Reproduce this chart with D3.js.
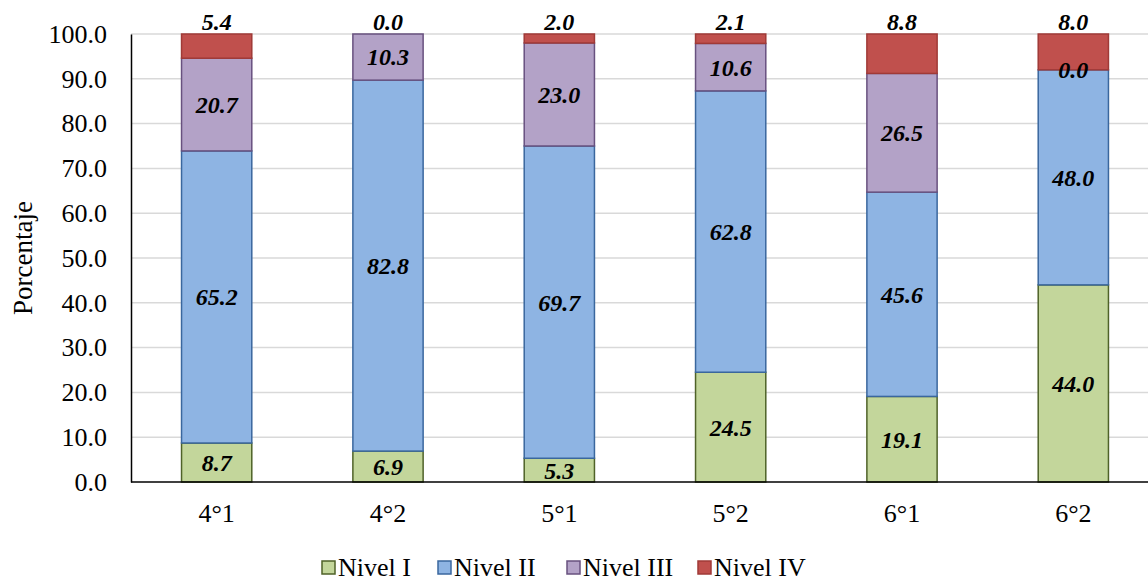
<!DOCTYPE html>
<html><head><meta charset="utf-8">
<script src="https://cdn.jsdelivr.net/npm/d3@7"></script>
<style>body{margin:0;background:#fff}svg{display:block}svg text{font-family:'Liberation Serif','Times New Roman',serif}</style>
</head><body><svg id="c" width="1148" height="581"></svg>
<script>
const categories = ["4°1","4°2","5°1","5°2","6°1","6°2"];
const seriesNames = ["Nivel I","Nivel II","Nivel III","Nivel IV"];
const nivelI   = [8.7, 6.9, 5.3, 24.5, 19.1, 44.0];
const nivelII  = [65.2, 82.8, 69.7, 62.8, 45.6, 48.0];
const nivelIII = [20.7, 10.3, 23.0, 10.6, 26.5, 0.0];
const nivelIV  = [5.4, 0.0, 2.0, 2.1, 8.8, 8.0];
const yTicks = [0,10,20,30,40,50,60,70,80,90,100];

const fills = ["#C3D69B","#8EB4E3","#B3A2C7","#C0504D"];
const strokes = ["#4F6228","#3A679E","#68517F","#A03A37"];
const seriesVals = [nivelI, nivelII, nivelIII, nivelIV];

const svg = d3.select("#c");
const pL = 131, pR = 1159, pT = 34, pB = 482;
const x = d3.scaleBand().domain(categories).range([pL, pR]).paddingInner(0.59).paddingOuter(0.295);
const y = d3.scaleLinear().domain([0,100]).range([pB, pT]);
const FF = "'Liberation Serif','Times New Roman',serif";

// gridlines
svg.append("g").selectAll("line").data(yTicks.filter(d=>d>0)).join("line")
  .attr("x1", pL).attr("x2", 1148).attr("y1", d=>y(d)).attr("y2", d=>y(d))
  .attr("stroke", "#D9D9D9").attr("stroke-width", 1.5);

// stacked data
const table = categories.map((c,i)=>{ const o={cat:c}; seriesNames.forEach((s,j)=>o[s]=seriesVals[j][i]); return o;});
const stack = d3.stack().keys(seriesNames)(table);

const g = svg.append("g");
stack.forEach((layer, j)=>{
  g.selectAll(null).data(layer).join("rect")
    .attr("x", d=>x(d.data.cat)).attr("width", x.bandwidth())
    .attr("y", d=>y(d[1])).attr("height", d=>y(d[0])-y(d[1]))
    .attr("fill", fills[j]).attr("stroke", strokes[j]).attr("stroke-width", 1.5);
});

// axes
const yAxis = d3.axisLeft(y).tickValues(yTicks).tickFormat(d3.format(".1f")).tickSize(0).tickPadding(24);
const ya = svg.append("g").attr("transform", `translate(${pL},0)`).call(yAxis).attr("font-family", null);
ya.select(".domain").attr("stroke","#000").attr("stroke-width",1.5);
ya.selectAll("text").style("font-family", FF).style("font-size", "26px").attr("fill","#000");

const xAxis = d3.axisBottom(x).tickSize(0).tickPadding(22);
const xa = svg.append("g").attr("transform", `translate(0,${pB})`).call(xAxis).attr("font-family", null);
xa.select(".domain").attr("d", `M${pL},0H1148`).attr("stroke","#000").attr("stroke-width",1.5);
xa.selectAll("text").style("font-family", FF).style("font-size", "26px").attr("fill","#000");

// labels
stack.forEach((layer, j)=>{
  g.selectAll(null).data(layer).join("text")
    .attr("x", d=>x(d.data.cat)+x.bandwidth()/2)
    .attr("y", d=> j===3 ? y(d[1]) - 4 : y((d[0]+d[1])/2))
    .attr("dy", j===3 ? 0 : "0.35em")
    .attr("text-anchor","middle")
    .style("font-family", FF).style("font-size","24px").style("font-weight","bold").style("font-style","italic")
    .attr("fill","#000")
    .text(d=>d3.format(".1f")(d[1]-d[0]));
});

// axis title
svg.append("text").attr("transform", `translate(32,${(pT+pB)/2}) rotate(-90)`)
  .attr("text-anchor","middle").style("font-family", FF).style("font-size","27px").text("Porcentaje");

// legend
const legX = [322, 438, 567, 698];
const lg = svg.append("g");
seriesNames.forEach((s,j)=>{
  lg.append("rect").attr("x", legX[j]).attr("y", 561).attr("width", 13).attr("height", 13)
    .attr("fill", fills[j]).attr("stroke", strokes[j]).attr("stroke-width", 1.5);
  lg.append("text").attr("x", legX[j]+16).attr("y", 576).style("font-family", FF).style("font-size","26px").text(s);
});
</script></body></html>
